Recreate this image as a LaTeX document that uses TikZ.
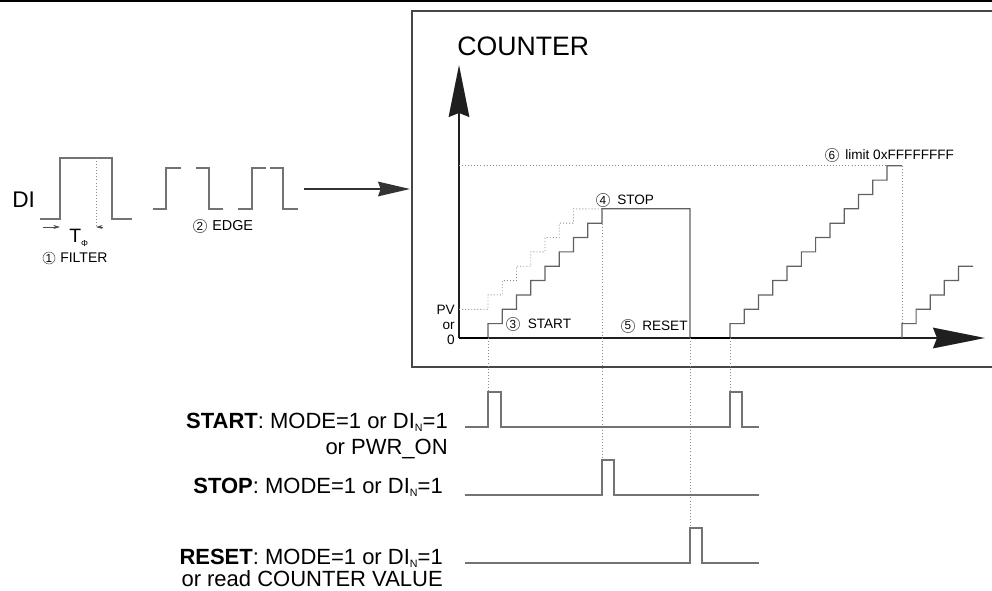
\documentclass[tikz,border=0pt]{standalone}
\usepackage{fontspec}
\setmainfont{Liberation Sans}
\usetikzlibrary{arrows.meta}
\newcommand\dsub[1]{\raisebox{-2.5pt}{\fontsize{8}{8}\selectfont #1}}
\begin{document}
\begin{tikzpicture}[x=0.75pt,y=-0.75pt,
  wave/.style={draw=black!55,line width=0.9pt},
  stair/.style={draw=black!62,line width=0.9pt},
  guide/.style={draw=black!45,line width=0.7pt,dash pattern=on 0.7pt off 1.6pt},
  frame/.style={draw=black!72,line width=1.1pt},
  axis/.style={draw=black!88,line width=1.2pt},
  bigtip/.style={-{Stealth[length=39pt,width=15.5pt,inset=3pt]}},
  cnum/.style={circle,draw=black!60,line width=0.5pt,inner sep=0pt,minimum size=10pt,font=\fontsize{8.8}{8.8}\selectfont},
  lbl/.style={inner sep=0pt,anchor=west,font=\fontsize{10.2}{10.2}\selectfont},
  sig/.style={inner sep=0pt,anchor=base east,font=\fontsize{16.5}{16.5}\selectfont},
]
\useasboundingbox (0,0) rectangle (992,591);
% top rule
\fill[black] (0,0) rectangle (992,2.2);

% ---------- DI input with filter ----------
\node[anchor=base west,inner sep=0pt,font=\fontsize{17}{17}\selectfont] (di) at (12,208) {DI};
\draw[wave] (40,219) -- (60,219) -- (60,158) -- (112,158) -- (112,219) -- (132,219);
\draw[guide] (96,158) -- (96,227);
\coordinate (dl0) at (43,227); \coordinate (dl1) at (60,227);
\coordinate (dr0) at (103,227); \coordinate (dr1) at (96,227);
\draw[black!70,line width=0.6pt,-{Stealth[length=5pt,width=3pt]}] (dl0) -- (dl1);
\draw[black!70,line width=0.6pt,-{Stealth[length=5pt,width=3pt]}] (dr0) -- (dr1);
\node[anchor=base west,inner sep=0pt,font=\fontsize{14.5}{14.5}\selectfont] (tphi) at (69,243) {T\raisebox{-2.5pt}{\fontsize{6.5}{6.5}\selectfont Φ}};
\node[cnum,minimum size=9pt] (c1) at (49,258) {1};
\node[lbl,font=\fontsize{10.5}{10.5}\selectfont] (filter) at (60,258) {FILTER};

% ---------- edges ----------
\draw[wave] (153,209) -- (166,209) -- (166,168) -- (181,168);
\draw[wave] (196,168) -- (209,168) -- (209,209) -- (223,209);
\draw[wave] (238,209) -- (252,209) -- (252,168) -- (266,168);
\draw[wave] (270,168) -- (283,168) -- (283,209) -- (298,209);
\node[cnum] (c2) at (200,226) {2};
\node[lbl,font=\fontsize{10.8}{10.8}\selectfont] (edge) at (212,226) {EDGE};

% arrow into counter box
\coordinate (inA) at (304,189);
\coordinate (inB) at (410,189);
\draw[black!80,line width=1pt,-{Stealth[length=24pt,width=11pt,inset=2pt]}] (inA) -- (inB);

% ---------- counter box ----------
\draw[frame] (993,11) -- (412,11) -- (412,367) -- (993,367);
\node[anchor=base west,inner sep=0pt,font=\fontsize{20}{20}\selectfont] (counter) at (457,56) {COUNTER};

\coordinate (O) at (459,338);
\coordinate (ytip) at (459,65);
\coordinate (xtip) at (985,338);
\draw[axis,bigtip] (O) -- (ytip);
\draw[axis,bigtip] (O) -- (xtip);

\node[anchor=base east,inner sep=0pt,font=\fontsize{10.2}{10.2}\selectfont] (pv) at (455,315) {PV};
\node[anchor=base east,inner sep=0pt,font=\fontsize{10.2}{10.2}\selectfont] (orl) at (455,330) {or};
\node[anchor=base east,inner sep=0pt,font=\fontsize{10.2}{10.2}\selectfont] (zero) at (455,345) {0};

% dotted staircase from PV
\draw[guide] (459,309.3) -- (488,309.3)
  \foreach \k in {1,...,6} { -- ++(0,-14.35) -- ++(14.25,0) } -- ++(0,-14.35) -- (602,208.85);
% limit line
\draw[guide] (459,165.8) -- (887,165.8);
\draw[guide] (902,165.8) -- (902,323.65);

% counter value
\draw[stair] (488,338)
  \foreach \k in {1,...,8} { -- ++(0,-14.35) -- ++(14.25,0) } -- ++(0,-14.35) -- (690,208.85) -- (690,338);
\draw[stair] (730,338)
  \foreach \k in {1,...,11} { -- ++(0,-14.35) -- ++(14.27,0) } -- ++(0,-14.35) -- (902,165.8);
\draw[stair] (902,338)
  \foreach \k in {1,...,4} { -- ++(0,-14.35) -- ++(14.1,0) } -- ++(0,-14.35) -- (973,266.25);
\draw[black,line width=1.5pt] (O) -- (488,338);
\draw[black,line width=1.5pt] (690,338) -- (730,338);

% labels in the chart
\node[cnum] (c3) at (513,324) {3};
\node[lbl] (l3) at (527.5,324) {START};
\node[cnum] (c4) at (603,200) {4};
\node[lbl] (l4) at (617,200) {STOP};
\node[cnum] (c5) at (628,326) {5};
\node[lbl] (l5) at (642,326) {RESET};
\node[cnum] (c6) at (832,155) {6};
\node[lbl] (l6) at (845,155) {limit 0xFFFFFFFF};

% guide lines down to the control signals
\draw[guide] (488,338) -- (488,392);
\draw[guide] (602,208.85) -- (602,460);
\draw[guide] (690,338) -- (690,528);
\draw[guide] (730,338) -- (730,392);

% ---------- control signals ----------
\draw[wave] (465,427) -- (488,427) -- (488,392) -- (501,392) -- (501,427) -- (730,427) -- (730,392) -- (742,392) -- (742,427) -- (759,427);
\draw[wave] (465,495) -- (602,495) -- (602,460) -- (614,460) -- (614,495) -- (759,495);
\draw[wave] (465,563) -- (690,563) -- (690,528) -- (702,528) -- (702,563) -- (759,563);

\node[sig] (startA) at (448,428) {\textbf{START}: MODE=1 or DI\dsub{N}=1};
\node[sig] (startB) at (448,454) {or PWR\_ON};
\node[sig] (stopL) at (443,493) {\textbf{STOP}: MODE=1 or DI\dsub{N}=1};
\node[sig] (resetA) at (443,564) {\textbf{RESET}: MODE=1 or DI\dsub{N}=1};
\node[sig] (resetB) at (443,586) {or read COUNTER VALUE};
\end{tikzpicture}
\end{document}
